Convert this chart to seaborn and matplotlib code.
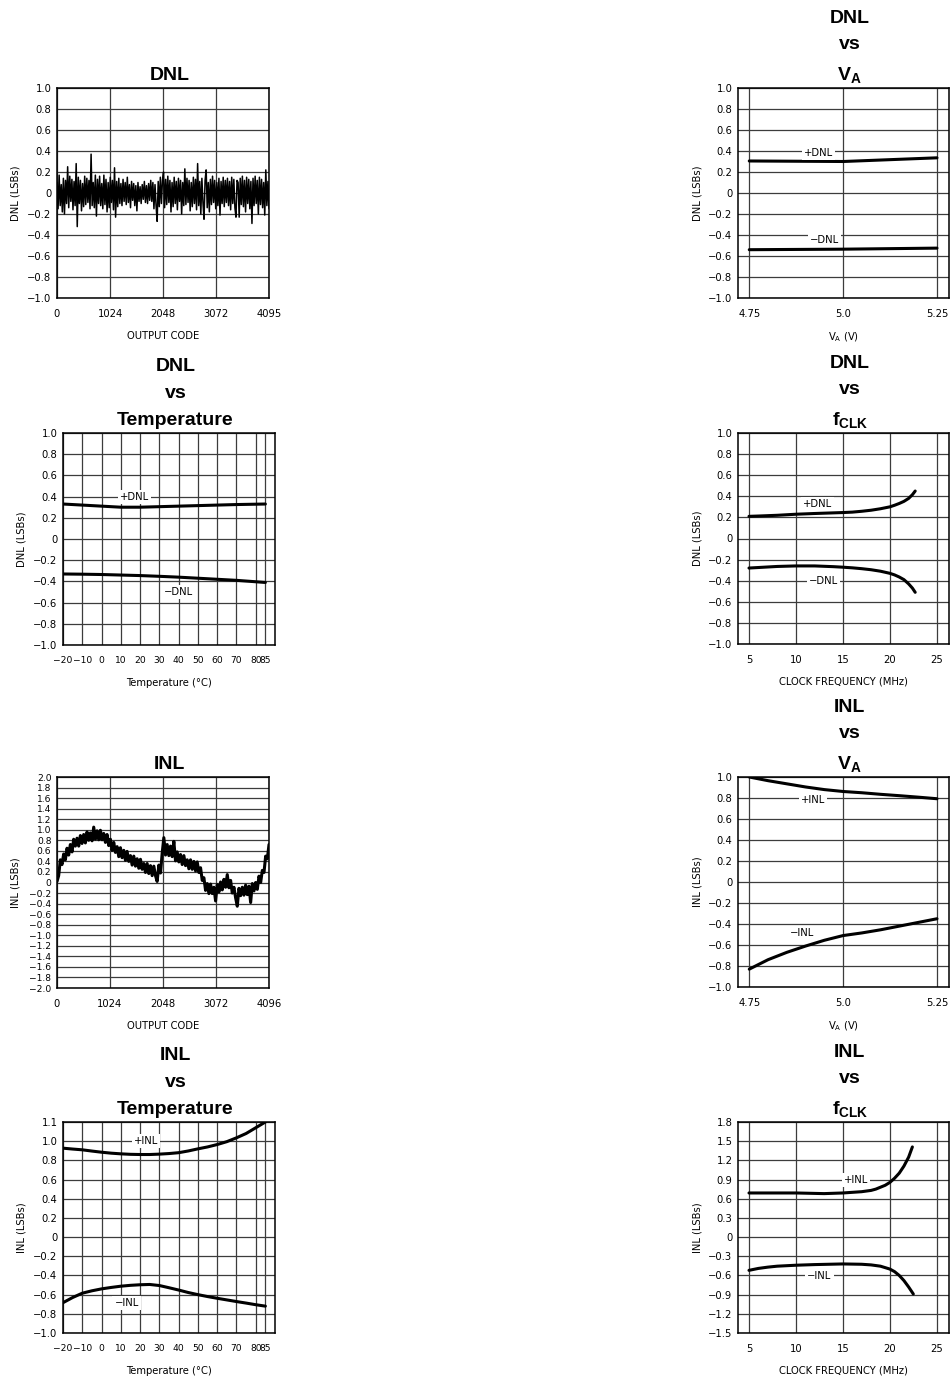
import matplotlib
matplotlib.use("Agg")
import matplotlib.pyplot as plt
import seaborn as sns
import numpy as np

# ---- data ----
dnl_values = [
    0.10, -0.15, 0.17, -0.12, 0.08, -0.18, 0.14, -0.20, 0.12, -0.10, 0.25, -0.14, 0.16, -0.08, 0.13, -0.16, 0.11, -0.12, 0.28, -0.32,
    0.15, -0.10, 0.12, -0.17, 0.09, -0.13, 0.16, -0.11, 0.14, -0.09, 0.12, -0.15, 0.37, -0.12, 0.10, -0.14, 0.17, -0.22, 0.13, -0.10,
    0.16, -0.12, 0.09, -0.15, 0.17, -0.11, 0.13, -0.18, 0.10, -0.14, 0.15, -0.09, 0.12, -0.16, 0.24, -0.23, 0.11, -0.13, 0.14, -0.10,
    0.09, -0.12, 0.13, -0.08, 0.10, -0.11, 0.15, -0.09, 0.08, -0.14, 0.11, -0.07, 0.09, -0.12, 0.07, -0.17, 0.10, -0.08, 0.06, -0.10,
    0.08, -0.06, 0.11, -0.09, 0.07, -0.10, 0.09, -0.07, 0.12, -0.08, 0.10, -0.15, 0.08, -0.12, -0.27, 0.11, -0.13, 0.15, -0.10, 0.12,
    0.20, -0.14, 0.13, -0.11, 0.16, -0.09, 0.12, -0.18, 0.10, -0.13, 0.15, -0.10, 0.11, -0.16, 0.14, -0.08, 0.12, -0.20, 0.10, -0.12,
    0.23, -0.11, 0.14, -0.09, 0.12, -0.17, 0.10, -0.13, 0.15, -0.10, 0.13, -0.16, 0.28, -0.12, 0.11, -0.20, 0.14, -0.09, -0.25, 0.12,
    0.22, -0.14, 0.10, -0.18, 0.13, -0.11, 0.16, -0.09, 0.12, -0.15, 0.10, -0.12, 0.14, -0.21, 0.11, -0.10, 0.15, -0.13, 0.12, -0.09,
    0.14, -0.12, 0.11, -0.16, 0.15, -0.10, 0.13, -0.14, -0.23, 0.12, 0.10, -0.23, 0.14, -0.11, 0.16, -0.13, 0.12, -0.18, 0.15, -0.10,
    0.13, -0.15, 0.11, -0.29, 0.14, -0.12, 0.16, -0.10, 0.12, -0.20, 0.15, -0.11, 0.13, -0.14, 0.10, -0.21, 0.22, -0.12, 0.11, -0.15,
]
dnl_codes = np.linspace(0, 4095, len(dnl_values))

inl_values = [
    0.02, 0.13, 0.43, 0.34, 0.54, 0.43, 0.65, 0.52, 0.72, 0.58, 0.82, 0.69, 0.84, 0.69, 0.89, 0.74,
    0.91, 0.75, 0.96, 0.80, 0.94, 0.79, 1.05, 0.82, 0.98, 0.81, 0.99, 0.81, 0.93, 0.76, 0.91, 0.70,
    0.82, 0.61, 0.76, 0.57, 0.68, 0.49, 0.66, 0.47, 0.61, 0.42, 0.59, 0.40, 0.51, 0.33, 0.50, 0.31,
    0.45, 0.27, 0.44, 0.25, 0.36, 0.19, 0.36, 0.17, 0.32, 0.13, 0.31, 0.13, 0.02, 0.33, 0.18, 0.55,
    0.85, 0.52, 0.72, 0.51, 0.69, 0.49, 0.78, 0.41, 0.58, 0.39, 0.53, 0.34, 0.51, 0.32, 0.43, 0.26,
    0.43, 0.25, 0.40, 0.22, 0.39, 0.19, 0.28, 0.04, 0.09, -0.15, -0.02, -0.21, -0.03, -0.21, -0.09, -0.35,
    -0.04, -0.18, 0.01, -0.14, 0.06, -0.09, 0.15, -0.10, 0.04, -0.20, -0.09, -0.29, -0.45, -0.11, -0.25, -0.09,
    -0.24, -0.05, -0.23, -0.07, -0.38, -0.02, -0.16, 0.00, -0.13, 0.12, 0.00, 0.23, 0.19, 0.50, 0.45, 0.72,
]
inl_codes = np.linspace(0, 4096, len(inl_values))

va_x = [4.75, 4.80, 4.85, 4.90, 4.95, 5.00, 5.05, 5.10, 5.15, 5.20, 5.25]
dnl_va_pos = [0.305, 0.304, 0.303, 0.302, 0.301, 0.300, 0.307, 0.314, 0.321, 0.328, 0.335]
dnl_va_neg = [-0.540, -0.539, -0.538, -0.537, -0.536, -0.535, -0.533, -0.531, -0.529, -0.527, -0.525]
inl_va_pos = [1.00, 0.965, 0.935, 0.905, 0.88, 0.862, 0.85, 0.835, 0.822, 0.808, 0.793]
inl_va_neg = [-0.83, -0.74, -0.67, -0.61, -0.555, -0.51, -0.485, -0.455, -0.42, -0.385, -0.35]

temp_x = [-20, -10, 0, 10, 20, 30, 40, 50, 60, 70, 85]
dnl_temp_pos = [0.33, 0.32, 0.31, 0.30, 0.30, 0.305, 0.31, 0.315, 0.32, 0.325, 0.33]
dnl_temp_neg = [-0.33, -0.332, -0.335, -0.34, -0.345, -0.352, -0.36, -0.37, -0.38, -0.39, -0.41]

inl_temp_x = [-20, -15, -10, -5, 0, 5, 10, 15, 20, 25, 30, 35, 40, 45, 50, 55, 60, 65, 70, 75, 80, 85]
inl_temp_pos = [0.927, 0.918, 0.91, 0.897, 0.885, 0.875, 0.868, 0.863, 0.861, 0.861, 0.865, 0.871,
                0.88, 0.898, 0.92, 0.94, 0.965, 0.995, 1.035, 1.08, 1.14, 1.20]
inl_temp_neg = [-0.684, -0.63, -0.585, -0.56, -0.54, -0.525, -0.512, -0.503, -0.497, -0.494, -0.505, -0.528,
                -0.552, -0.578, -0.60, -0.62, -0.638, -0.655, -0.672, -0.688, -0.705, -0.72]

fclk_x = [5, 6, 8, 10, 12, 14, 15, 16, 17, 18, 19, 20, 20.5, 21, 21.5, 22, 22.4, 22.7]
dnl_fclk_pos = [0.21, 0.213, 0.22, 0.23, 0.237, 0.243, 0.246, 0.25, 0.258, 0.268, 0.282, 0.30,
                0.315, 0.332, 0.352, 0.38, 0.415, 0.45]
dnl_fclk_neg = [-0.28, -0.275, -0.265, -0.26, -0.26, -0.267, -0.272, -0.278, -0.286, -0.296, -0.31, -0.33,
                -0.345, -0.365, -0.39, -0.43, -0.47, -0.51]

inl_fclk_pos_x = [5, 7, 10, 13, 15, 16, 17, 18, 18.5, 19, 19.5, 20, 20.5, 21, 21.5, 22, 22.4]
inl_fclk_pos = [0.69, 0.69, 0.69, 0.68, 0.69, 0.70, 0.71, 0.73, 0.75, 0.78, 0.81, 0.855, 0.92, 1.00, 1.11, 1.25, 1.41]
inl_fclk_neg_x = [5, 6, 7, 8, 10, 12, 15, 17, 18, 19, 20, 20.5, 21, 21.5, 22, 22.5]
inl_fclk_neg = [-0.52, -0.49, -0.47, -0.455, -0.44, -0.43, -0.42, -0.425, -0.435, -0.455, -0.50, -0.54,
                -0.60, -0.68, -0.78, -0.89]

code_ticks_dnl = [0, 1024, 2048, 3072, 4095]
code_ticks_inl = [0, 1024, 2048, 3072, 4096]
temp_ticks = [-20, -10, 0, 10, 20, 30, 40, 50, 60, 70, 80, 85]
va_ticks = [4.75, 5.0, 5.25]
va_tick_labels = ["4.75", "5.0", "5.25"]
fclk_ticks = [5, 10, 15, 20, 25]
y_ticks_1 = [-1.0, -0.8, -0.6, -0.4, -0.2, 0, 0.2, 0.4, 0.6, 0.8, 1.0]
y_ticks_inl = [-2.0, -1.8, -1.6, -1.4, -1.2, -1.0, -0.8, -0.6, -0.4, -0.2, 0,
               0.2, 0.4, 0.6, 0.8, 1.0, 1.2, 1.4, 1.6, 1.8, 2.0]
y_ticks_inl_temp = [-1.0, -0.8, -0.6, -0.4, -0.2, 0, 0.2, 0.4, 0.6, 0.8, 1.0, 1.2]
y_labels_inl_temp = ["-1.0", "-0.8", "-0.6", "-0.4", "-0.2", "0", "0.2", "0.4", "0.6", "0.8", "1.0", "1.1"]
y_ticks_inl_fclk = [-1.5, -1.2, -0.9, -0.6, -0.3, 0, 0.3, 0.6, 0.9, 1.2, 1.5, 1.8]

# ---- style ----
sns.set_theme(style="white")
plt.rcParams["font.family"] = ["DejaVu Sans"]
plt.rcParams["mathtext.fontset"] = "custom"
plt.rcParams["mathtext.rm"] = "DejaVu Sans"
plt.rcParams["mathtext.bf"] = "Liberation Sans:bold"
plt.rcParams["text.color"] = "black"
plt.rcParams["axes.labelcolor"] = "black"
plt.rcParams["xtick.color"] = "black"
plt.rcParams["ytick.color"] = "black"

W, H = 952, 1380
fig = plt.figure(figsize=(W / 100, H / 100), dpi=100)
fig.patch.set_facecolor("white")

GRID = "#3c3c3c"
TICK_FS = 7.2


def fmt(v):
    if v == 0:
        return "0"
    return ("%.1f" % v).replace("-", "\u2212")


def make_axes(left, top, right, bottom):
    return fig.add_axes([left / W, 1 - bottom / H, (right - left) / W, (bottom - top) / H])


def style_axes(ax, title, xlim, xticks, xlabels, ylim, yticks, ylabels, xlabel, ylabel,
               tick_fs=TICK_FS, xtick_fs=TICK_FS):
    ax.set_xlim(*xlim)
    ax.set_ylim(*ylim)
    ax.set_xticks(xticks)
    ax.set_xticklabels(xlabels, fontsize=xtick_fs)
    ax.set_yticks(yticks)
    ax.set_yticklabels([l.replace("-", "\u2212") for l in ylabels], fontsize=tick_fs)
    ax.tick_params(length=0, pad=4, colors="black")
    ax.tick_params(axis="x", pad=8)
    ax.grid(True, color=GRID, linewidth=0.9)
    ax.set_axisbelow(True)
    for s in ax.spines.values():
        s.set_color("black")
        s.set_linewidth(1.1)
    ax.set_xlabel(xlabel, fontsize=7.2)
    ax.set_ylabel(ylabel, fontsize=7.2)
    ax.xaxis.set_label_coords(0.5, -0.155)
    ax.yaxis.set_label_coords(-0.17, 0.5)
    ax.set_title(title, fontsize=14, fontweight="bold", x=0.53, pad=6, linespacing=1.75,
                 family="Liberation Sans", color="black")


def curve(ax, x, y):
    sns.lineplot(x=x, y=y, ax=ax, color="black", linewidth=2.2, sort=False)


def tag(ax, x, y, s):
    ax.text(x, y, s, fontsize=7.2, ha="center", va="center",
            bbox=dict(facecolor="white", edgecolor="none", pad=1.5))


ylab1 = [fmt(v) for v in y_ticks_1]
temp_labels = [fmt(t).replace(".0", "") for t in temp_ticks]

# DNL vs code
ax = make_axes(57, 88, 269, 298)
sns.lineplot(x=dnl_codes, y=dnl_values, ax=ax, color="black", linewidth=1.1, sort=False)
style_axes(ax, "DNL", (0, 4095), code_ticks_dnl, [str(t) for t in code_ticks_dnl],
           (-1, 1), y_ticks_1, ylab1, "OUTPUT CODE", "DNL (LSBs)")

# DNL vs VA
ax = make_axes(738, 88, 949, 298)
curve(ax, va_x, dnl_va_pos)
curve(ax, va_x, dnl_va_neg)
tag(ax, 4.935, 0.385, "+DNL")
tag(ax, 4.95, -0.45, "\u2212DNL")
style_axes(ax, "DNL\nvs\n$\\mathbf{V_A}$", (4.72, 5.282), va_ticks, va_tick_labels,
           (-1, 1), y_ticks_1, ylab1, "V$_{\\mathrm{A}}$ (V)", "DNL (LSBs)")

# DNL vs temperature
ax = make_axes(63, 433, 275, 645)
curve(ax, temp_x, dnl_temp_pos)
curve(ax, temp_x, dnl_temp_neg)
tag(ax, 17, 0.40, "+DNL")
tag(ax, 40, -0.50, "\u2212DNL")
style_axes(ax, "DNL\nvs\nTemperature", (-20, 90), temp_ticks, temp_labels,
           (-1, 1), y_ticks_1, ylab1, "Temperature (\u00b0C)", "DNL (LSBs)", xtick_fs=6.6)

# DNL vs fCLK
ax = make_axes(738, 433, 949, 644)
curve(ax, fclk_x, dnl_fclk_pos)
curve(ax, fclk_x, dnl_fclk_neg)
tag(ax, 12.3, 0.33, "+DNL")
tag(ax, 12.9, -0.40, "\u2212DNL")
style_axes(ax, "DNL\nvs\n$\\mathbf{f_{CLK}}$", (3.83, 26.3), fclk_ticks, [str(t) for t in fclk_ticks],
           (-1, 1), y_ticks_1, ylab1, "CLOCK FREQUENCY (MHz)", "DNL (LSBs)")

# INL vs code
ax = make_axes(57, 777, 269, 988)
sns.lineplot(x=inl_codes, y=inl_values, ax=ax, color="black", linewidth=2.2, sort=False)
style_axes(ax, "INL", (0, 4096), code_ticks_inl, [str(t) for t in code_ticks_inl],
           (-2, 2), y_ticks_inl, [fmt(v) for v in y_ticks_inl], "OUTPUT CODE", "INL (LSBs)",
           tick_fs=6.6)

# INL vs VA
ax = make_axes(738, 777, 949, 987)
curve(ax, va_x, inl_va_pos)
curve(ax, va_x, inl_va_neg)
tag(ax, 4.92, 0.78, "+INL")
tag(ax, 4.89, -0.49, "\u2212INL")
style_axes(ax, "INL\nvs\n$\\mathbf{V_A}$", (4.72, 5.282), va_ticks, va_tick_labels,
           (-1, 1), y_ticks_1, ylab1, "V$_{\\mathrm{A}}$ (V)", "INL (LSBs)")

# INL vs temperature
ax = make_axes(63, 1122, 275, 1333)
curve(ax, inl_temp_x, inl_temp_pos)
curve(ax, inl_temp_x, inl_temp_neg)
tag(ax, 23, 1.0, "+INL")
tag(ax, 13, -0.69, "\u2212INL")
style_axes(ax, "INL\nvs\nTemperature", (-20, 90), temp_ticks, temp_labels,
           (-1, 1.2), y_ticks_inl_temp, y_labels_inl_temp, "Temperature (\u00b0C)", "INL (LSBs)",
           xtick_fs=6.6)

# INL vs fCLK
ax = make_axes(738, 1122, 949, 1333)
curve(ax, inl_fclk_pos_x, inl_fclk_pos)
curve(ax, inl_fclk_neg_x, inl_fclk_neg)
tag(ax, 16.4, 0.89, "+INL")
tag(ax, 12.5, -0.61, "\u2212INL")
style_axes(ax, "INL\nvs\n$\\mathbf{f_{CLK}}$", (3.83, 26.3), fclk_ticks, [str(t) for t in fclk_ticks],
           (-1.5, 1.8), y_ticks_inl_fclk, [fmt(v) for v in y_ticks_inl_fclk],
           "CLOCK FREQUENCY (MHz)", "INL (LSBs)")

fig.savefig("out.png", dpi=100, facecolor="white")
